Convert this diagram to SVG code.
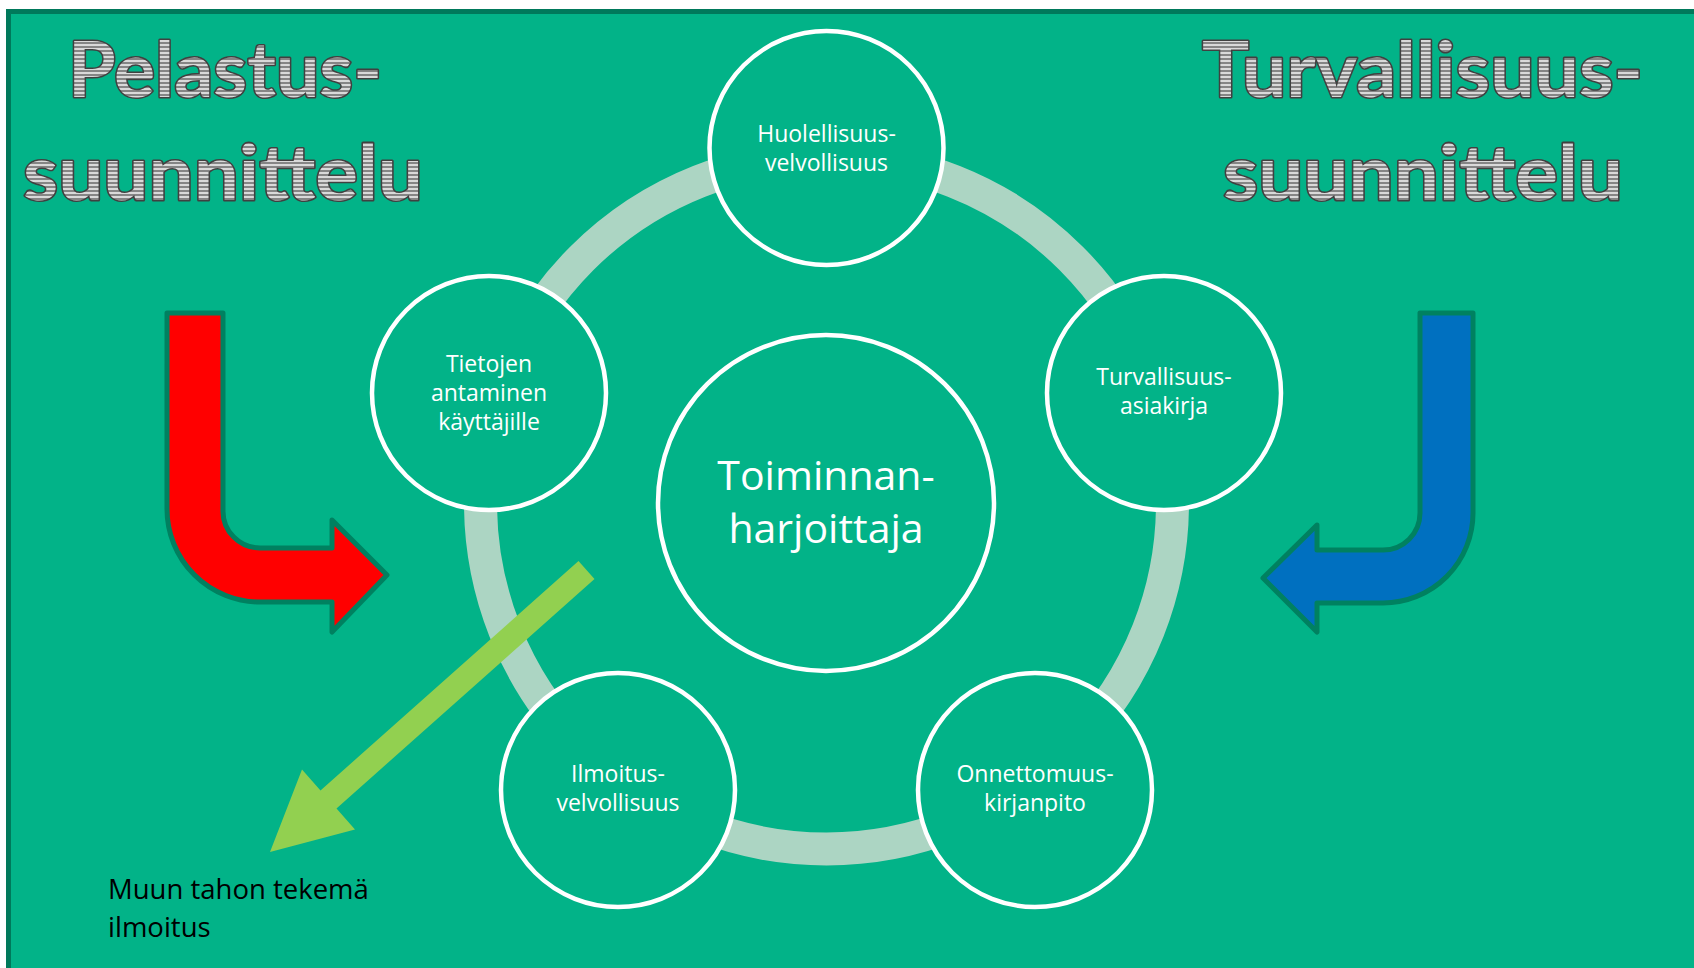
<svg xmlns="http://www.w3.org/2000/svg" width="1694" height="968" viewBox="0 0 1694 968">
  <defs>
    <pattern id="stripes" patternUnits="userSpaceOnUse" width="8" height="4">
      <rect width="8" height="4" fill="#d9d9d9"/>
      <rect y="2" width="8" height="2" fill="#858585"/>
    </pattern>
    <style>
      .title { font-family: Lato, "Open Sans", "Liberation Sans", sans-serif; font-weight: bold; font-size: 76px; fill: url(#stripes); stroke: #404040; stroke-width: 3; paint-order: stroke fill; stroke-linejoin: round; }
      .sat { fill: #02b388; stroke: #ffffff; stroke-width: 4.5; }
      .lbl { font-family: "Open Sans", "Liberation Sans", sans-serif; font-size: 23px; fill: #ffffff; text-anchor: middle; }
      .big { font-family: "Open Sans", "Liberation Sans", sans-serif; font-size: 41px; fill: #ffffff; text-anchor: middle; }
      .note { font-family: "Open Sans", "Liberation Sans", sans-serif; font-size: 27.5px; fill: #000000; }
      .bend { stroke: #008160; stroke-width: 5; stroke-linejoin: round; }
    </style>
  </defs>
  <rect x="0" y="0" width="1694" height="968" fill="#ffffff"/>
  <rect x="8.5" y="11.5" width="1700" height="970" fill="#02b388" stroke="#00795b" stroke-width="5"/>

  <g id="ring">
    <circle cx="826.5" cy="503" r="346" fill="none" stroke="#acd5c3" stroke-width="33"/>
  </g>

  <g id="title-left">
    <text class="title" x="68" y="97" textLength="314" lengthAdjust="spacingAndGlyphs">Pelastus-</text>
    <text class="title" x="23" y="200" textLength="400" lengthAdjust="spacingAndGlyphs">suunnittelu</text>
  </g>
  <g id="title-right">
    <text class="title" x="1202" y="97" textLength="441" lengthAdjust="spacingAndGlyphs">Turvallisuus-</text>
    <text class="title" x="1223" y="200" textLength="400" lengthAdjust="spacingAndGlyphs">suunnittelu</text>
  </g>

  <g id="connectors">
    <path id="arrow-red" class="bend" fill="#ff0000" d="M167,313 L223,313 L223,510 A37,37 0 0 0 260,548 L332,548 L332,520 L387,575 L332,632 L332,602 L260,602 A93,93 0 0 1 167,509 Z"/>
    <path id="arrow-blue" class="bend" fill="#0070c0" d="M1473,313 L1420,313 L1420,513 A37,37 0 0 1 1383,550 L1317,550 L1317,525 L1263,578 L1317,632 L1317,603 L1383,603 A90,90 0 0 0 1473,513 Z"/>
  </g>

  <g id="node-huolellisuus">
    <circle class="sat" cx="826.5" cy="148" r="117"/>
    <text class="lbl" x="826.5" y="142">Huolellisuus-</text>
    <text class="lbl" x="826.5" y="171">velvollisuus</text>
  </g>
  <g id="node-tietojen">
    <circle class="sat" cx="489" cy="393" r="117"/>
    <text class="lbl" x="489" y="372">Tietojen</text>
    <text class="lbl" x="489" y="401">antaminen</text>
    <text class="lbl" x="489" y="430">käyttäjille</text>
  </g>
  <g id="node-turvallisuusasiakirja">
    <circle class="sat" cx="1164" cy="393" r="117"/>
    <text class="lbl" x="1164" y="385">Turvallisuus-</text>
    <text class="lbl" x="1164" y="414">asiakirja</text>
  </g>
  <g id="node-ilmoitus">
    <circle class="sat" cx="618" cy="790" r="117"/>
    <text class="lbl" x="618" y="782">Ilmoitus-</text>
    <text class="lbl" x="618" y="811">velvollisuus</text>
  </g>
  <g id="node-onnettomuus">
    <circle class="sat" cx="1035" cy="790" r="117"/>
    <text class="lbl" x="1035" y="782">Onnettomuus-</text>
    <text class="lbl" x="1035" y="811">kirjanpito</text>
  </g>
  <g id="node-center">
    <circle class="sat" cx="826" cy="503" r="168"/>
    <text class="big" x="826" y="490">Toiminnan-</text>
    <text class="big" x="826" y="543">harjoittaja</text>
  </g>

  <g id="arrow-green-group">
    <polygon id="arrow-green" fill="#92d050" points="578.5,561 594.5,579 336.5,808.5 355,829.4 270,852 302,769.6 320.5,790.5"/>
  </g>

  <g id="note">
    <text class="note" x="108" y="899">Muun tahon tekemä</text>
    <text class="note" x="108" y="937">ilmoitus</text>
  </g>
</svg>
